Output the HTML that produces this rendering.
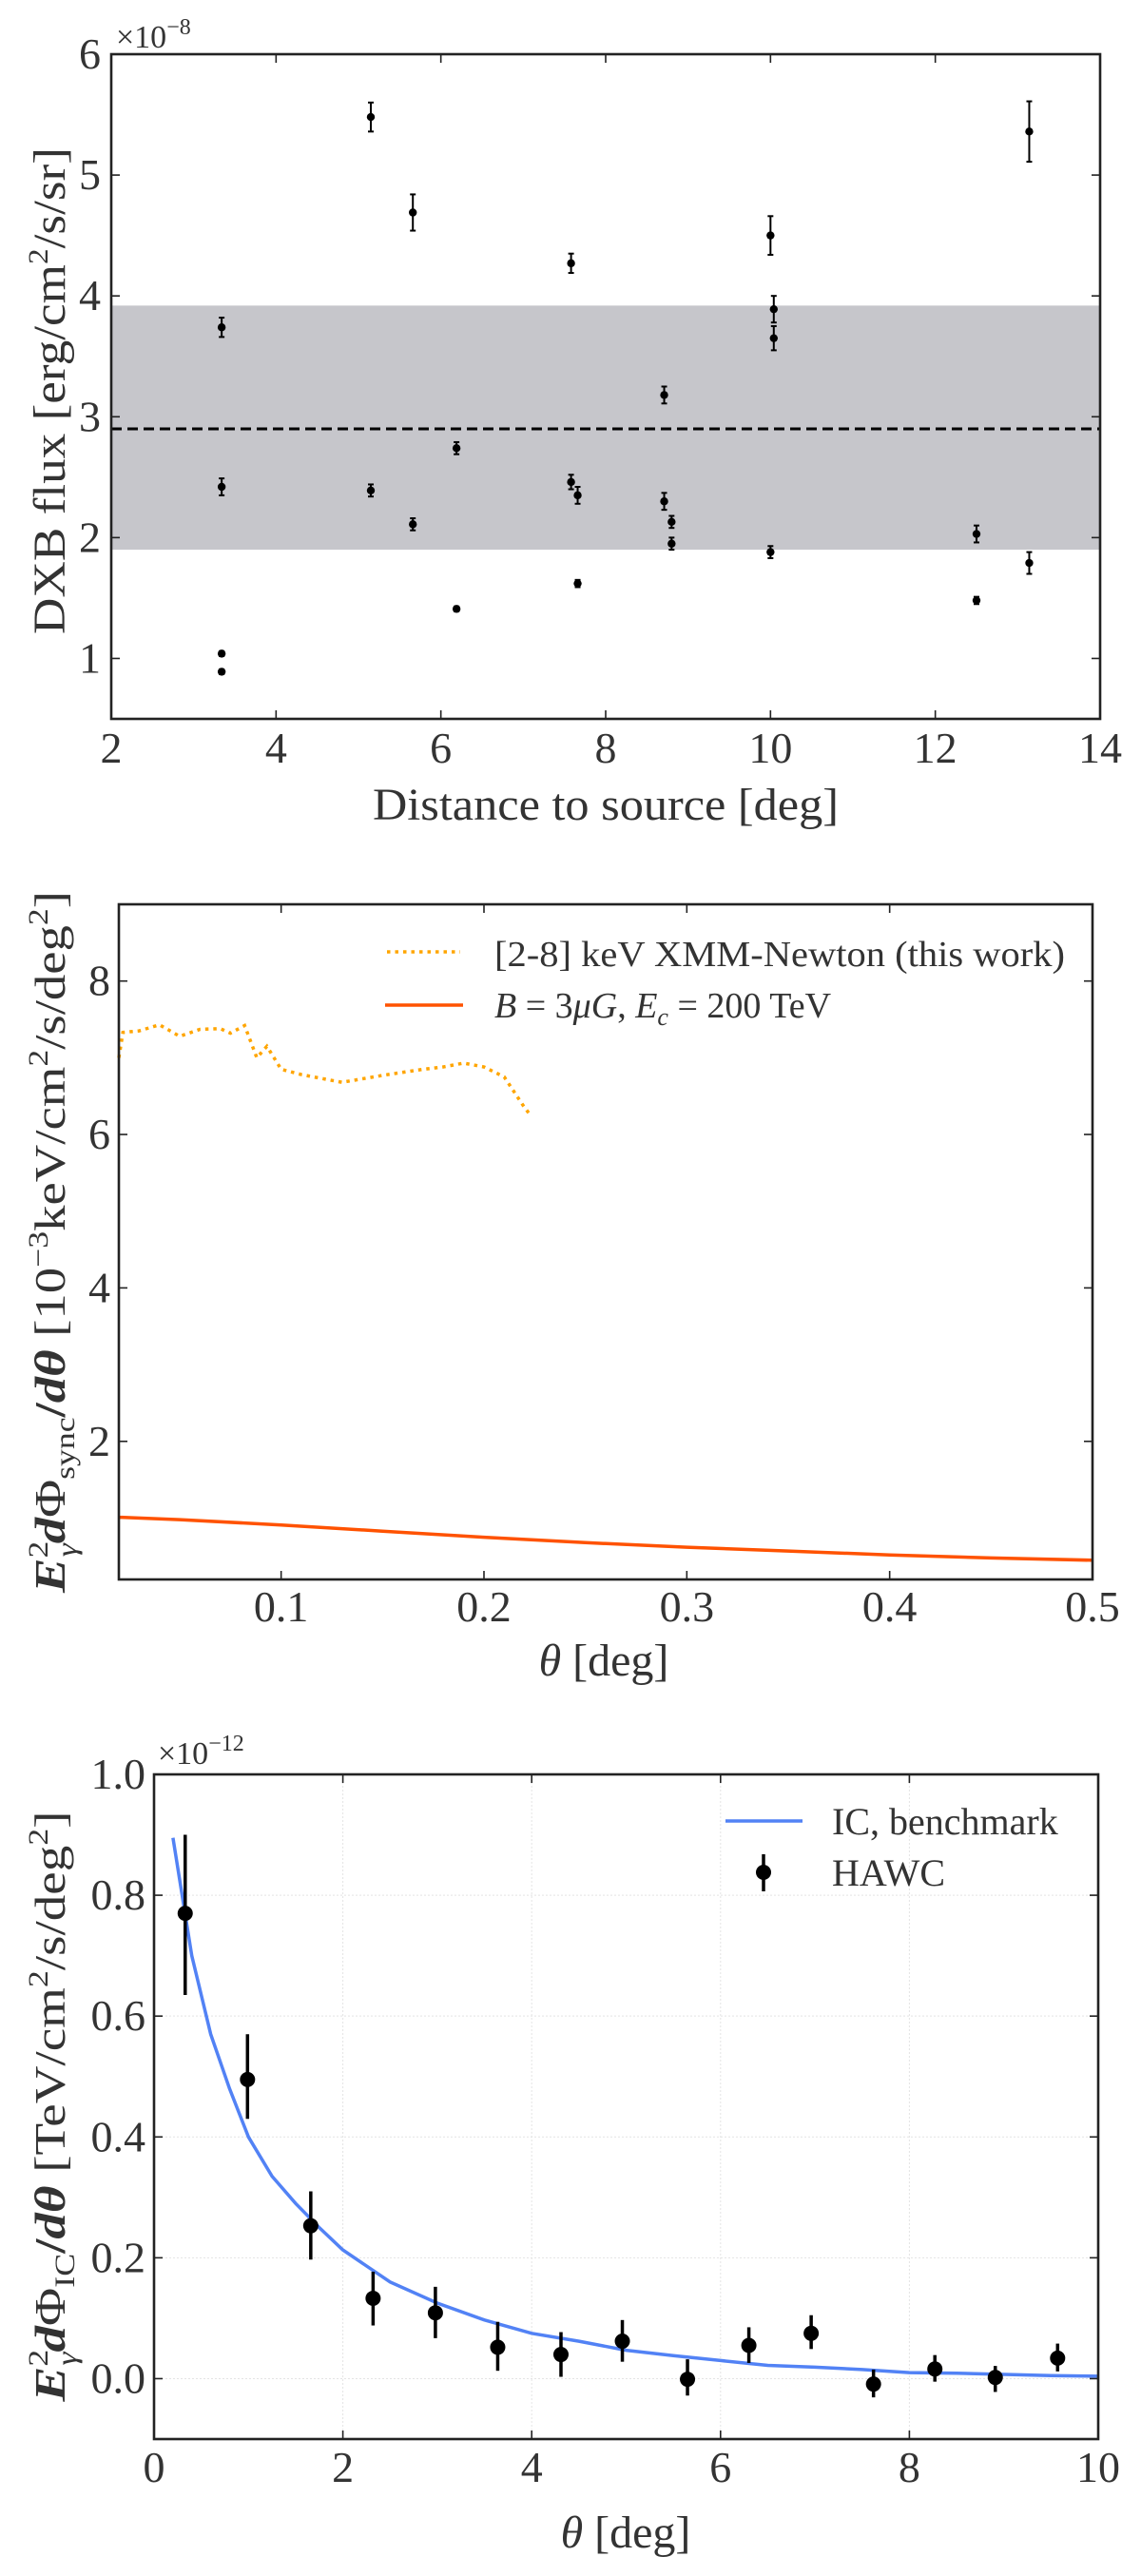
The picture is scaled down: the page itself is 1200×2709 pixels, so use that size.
<!DOCTYPE html>
<html><head><meta charset="utf-8"><style>
html,body{margin:0;padding:0;background:#fff;}
svg{display:block;font-family:"Liberation Serif","DejaVu Serif",serif;}
svg text{font-family:"Liberation Serif","DejaVu Serif",serif;}
</style></head><body>
<svg id="fig" width="1200" height="2709" viewBox="0 0 1200 2709" xmlns="http://www.w3.org/2000/svg" font-family="'Liberation Serif','DejaVu Serif',serif">
<g id="p1"></g>
<g id="p2"></g>
<g id="p3"></g>
</svg>
<script>
// ---- Panel 1 data ----
const dxbDist = [3.34,3.34,3.34,3.34,5.15,5.15,5.66,5.66,6.19,6.19,7.58,7.58,7.66,7.66,8.71,8.71,8.80,8.80,10.0,10.0,10.04,10.04,12.5,12.5,13.14,13.14];
const dxbFlux = [3.74,2.42,1.04,0.89,5.48,2.39,4.69,2.11,2.74,1.41,4.27,2.46,2.35,1.62,3.18,2.30,2.13,1.95,4.50,1.88,3.89,3.65,2.03,1.48,5.36,1.79];
const dxbErr  = [0.08,0.07,0.02,0.02,0.12,0.05,0.15,0.05,0.05,0.02,0.08,0.06,0.07,0.03,0.07,0.07,0.05,0.05,0.16,0.05,0.11,0.10,0.07,0.03,0.25,0.09];
const dxbMean = 2.9;
const dxbBand = [1.9, 3.92];
const p1XTicks = [2,4,6,8,10,12,14];
const p1YTicks = [1,2,3,4,5,6];
// ---- Panel 2 data ----
const xmmTheta = [0.02,0.022,0.03,0.04,0.05,0.06,0.07,0.075,0.082,0.088,0.093,0.1,0.11,0.13,0.15,0.17,0.18,0.19,0.2,0.21,0.22,0.223];
const xmmFlux  = [7.0,7.33,7.35,7.43,7.28,7.37,7.38,7.32,7.42,7.0,7.15,6.85,6.78,6.68,6.77,6.85,6.88,6.93,6.88,6.75,6.35,6.25];
const syncTheta = [0.02,0.05,0.1,0.15,0.2,0.25,0.3,0.35,0.4,0.45,0.5];
const syncFlux  = [1.01,0.98,0.91,0.83,0.75,0.68,0.62,0.57,0.52,0.48,0.45];
const p2XTicks = [0.1,0.2,0.3,0.4,0.5];
const p2YTicks = [2,4,6,8];
// ---- Panel 3 data ----
const icTheta = [0.2,0.4,0.6,0.8,1.0,1.25,1.5,1.75,2.0,2.5,3.0,3.5,4.0,4.5,5.0,5.5,6.0,6.5,7.0,7.5,8.0,8.5,9.0,9.5,10.0];
const icFlux  = [0.895,0.70,0.57,0.48,0.40,0.335,0.29,0.25,0.213,0.16,0.125,0.097,0.075,0.062,0.047,0.038,0.03,0.022,0.019,0.015,0.01,0.009,0.007,0.005,0.004];
const hawcTheta = [0.33,0.99,1.66,2.32,2.98,3.64,4.31,4.96,5.65,6.30,6.96,7.62,8.27,8.91,9.57];
const hawcFlux  = [0.77,0.495,0.253,0.133,0.109,0.052,0.04,0.062,-0.001,0.055,0.075,-0.009,0.016,0.002,0.034];
const hawcLo    = [0.635,0.43,0.197,0.088,0.067,0.013,0.003,0.028,-0.028,0.026,0.049,-0.031,-0.005,-0.022,0.012];
const hawcHi    = [0.90,0.57,0.31,0.177,0.152,0.094,0.077,0.097,0.032,0.085,0.105,0.015,0.039,0.021,0.058];
const p3XTicks = [0,2,4,6,8,10];
const p3YTicks = [0.0,0.2,0.4,0.6,0.8,1.0];

const NS="http://www.w3.org/2000/svg";
const FONT="'Liberation Serif','DejaVu Serif',serif";
function mk(parent,tag,attrs,text){const e=document.createElementNS(NS,tag);for(const k in attrs)e.setAttribute(k,attrs[k]);if(tag==='text')e.setAttribute('font-family',FONT);if(text!==undefined)e.textContent=text;parent.appendChild(e);return e;}
function scale(d0,d1,r0,r1){return v=>r0+(v-d0)*(r1-r0)/(d1-d0);}

function frame(g,L,T,R,B,xs,ys,xt,yt){
  xt.forEach(v=>{const l=mk(g,'line',{x1:xs(v),x2:xs(v),y1:T,y2:B,stroke:'#e4e4e4','stroke-width':1,'stroke-dasharray':'2,2'});
    });
  yt.forEach(v=>{const l=mk(g,'line',{x1:L,x2:R,y1:ys(v),y2:ys(v),stroke:'#e4e4e4','stroke-width':1,'stroke-dasharray':'2,2'});
    });
}
function axes(g,L,T,R,B,xs,ys,xt,yt,fmtX,fmtY,xTickY,yTickX){
  const r=mk(g,'rect',{x:L,y:T,width:R-L,height:B-T,fill:'none',stroke:'#222','stroke-width':2.6});
  
  xt.forEach(v=>{const x=xs(v);
    mk(g,'line',{x1:x,x2:x,y1:B,y2:B-9,stroke:'#222','stroke-width':1.6});
    mk(g,'line',{x1:x,x2:x,y1:T,y2:T+9,stroke:'#222','stroke-width':1.6});
    const t=mk(g,'text',{x:x,y:xTickY,'text-anchor':'middle','font-size':46,fill:'#333'},fmtX(v));
    });
  yt.forEach(v=>{const y=ys(v);
    mk(g,'line',{x1:L,x2:L+9,y1:y,y2:y,stroke:'#222','stroke-width':1.6});
    mk(g,'line',{x1:R,x2:R-9,y1:y,y2:y,stroke:'#222','stroke-width':1.6});
    const t=mk(g,'text',{x:yTickX,y:y+15,'text-anchor':'end','font-size':46,fill:'#333'},fmtY(v));
    });
}

// ===== Panel 1 =====
(function(){
  const g=document.getElementById('p1');
  const L=117,R=1157,T=57,B=756;
  const xs=scale(2,14,L,R), ys=scale(0.5,6,B,T);
  const band=mk(g,'rect',{x:L,y:ys(dxbBand[1]),width:R-L,height:ys(dxbBand[0])-ys(dxbBand[1]),fill:'#c6c6cb'});
  
  const m=mk(g,'line',{x1:L,x2:R,y1:ys(dxbMean),y2:ys(dxbMean),stroke:'#000','stroke-width':3,'stroke-dasharray':'11,6'});
  
  dxbDist.forEach((d,i)=>{
    const x=xs(d),y0=ys(dxbFlux[i]-dxbErr[i]),y1=ys(dxbFlux[i]+dxbErr[i]);
    const pg=mk(g,'g',{});
    
    mk(pg,'line',{x1:x,x2:x,y1:y0,y2:y1,stroke:'#000','stroke-width':2});
    mk(pg,'line',{x1:x-3,x2:x+3,y1:y0,y2:y0,stroke:'#000','stroke-width':2});
    mk(pg,'line',{x1:x-3,x2:x+3,y1:y1,y2:y1,stroke:'#000','stroke-width':2});
    mk(pg,'circle',{cx:x,cy:ys(dxbFlux[i]),r:4.2,fill:'#000'});
  });
  axes(g,L,T,R,B,xs,ys,p1XTicks,p1YTicks,v=>String(v),v=>String(v),802,106);
  const s=mk(g,'text',{x:122,y:50,'font-size':34,fill:'#333'},'×10');
  
  mk(s,'tspan',{'font-size':24,dy:-14},'−8');
  const xl=mk(g,'text',{x:637,y:862,'text-anchor':'middle','font-size':48,fill:'#333',textLength:490,lengthAdjust:'spacingAndGlyphs'},'Distance to source [deg]');
  
  const yl=mk(g,'text',{x:0,y:0,transform:'translate(68,411) rotate(-90)','text-anchor':'middle','font-size':48,fill:'#333',textLength:512,lengthAdjust:'spacingAndGlyphs'},'DXB flux [erg/cm');
  
  mk(yl,'tspan',{'font-size':30,dy:-18},'2');
  mk(yl,'tspan',{dy:18},'/s/sr]');
})();

// ===== Panel 2 =====
(function(){
  const g=document.getElementById('p2');
  const L=125,R=1149,T=951,B=1661;
  const xs=scale(0.02,0.5,L,R), ys=scale(0.2,9,B,T);
  const d1=xmmTheta.map((t,i)=>(i?'L':'M')+xs(t).toFixed(1)+','+ys(xmmFlux[i]).toFixed(1)).join(' ');
  const p=mk(g,'path',{d:d1,fill:'none',stroke:'#ffa500','stroke-width':3.5,'stroke-dasharray':'3.5,5'});
  
  const d2=syncTheta.map((t,i)=>(i?'L':'M')+xs(t).toFixed(1)+','+ys(syncFlux[i]).toFixed(1)).join(' ');
  const q=mk(g,'path',{d:d2,fill:'none',stroke:'#ff5200','stroke-width':3.5});
  
  axes(g,L,T,R,B,xs,ys,p2XTicks,p2YTicks,v=>v.toFixed(1),v=>String(v),1705,116);
  const lg=mk(g,'g',{});
  
  mk(lg,'line',{x1:407,x2:484,y1:1001,y2:1001,stroke:'#ffa500','stroke-width':3.5,'stroke-dasharray':'3.5,5'});
  const t1=mk(lg,'text',{x:520,y:1016,'font-size':38,fill:'#333',textLength:600,lengthAdjust:'spacingAndGlyphs'},'[2-8] keV XMM-Newton (this work)');
  
  mk(lg,'line',{x1:405,x2:487,y1:1057,y2:1057,stroke:'#ff5200','stroke-width':3.5});
  const t2=mk(lg,'text',{x:520,y:1070,'font-size':38,fill:'#333'});
  
  mk(t2,'tspan',{'font-style':'italic'},'B');mk(t2,'tspan',{},' = 3');mk(t2,'tspan',{'font-style':'italic'},'μG');
  mk(t2,'tspan',{},', ');mk(t2,'tspan',{'font-style':'italic'},'E');mk(t2,'tspan',{'font-style':'italic','font-size':26,dy:8},'c');
  mk(t2,'tspan',{dy:-8},' = 200 TeV');
  const xl=mk(g,'text',{x:635,y:1762,'text-anchor':'middle','font-size':48,fill:'#333'});
  
  mk(xl,'tspan',{'font-style':'italic'},'θ');mk(xl,'tspan',{},' [deg]');
  const yl=mk(g,'text',{x:0,y:0,transform:'translate(68,1306) rotate(-90)','text-anchor':'middle','font-size':46,fill:'#333',textLength:738,lengthAdjust:'spacingAndGlyphs'});
  
  mk(yl,'tspan',{'font-style':'italic','font-weight':'bold'},'E');
  mk(yl,'tspan',{'font-size':30,dy:-18},'2');mk(yl,'tspan',{'font-size':30,dx:-14,dy:30,'font-style':'italic'},'γ');
  mk(yl,'tspan',{dy:-12,'font-style':'italic','font-weight':'bold'},'d');mk(yl,'tspan',{},'Φ');
  mk(yl,'tspan',{'font-size':30,dy:10},'sync');mk(yl,'tspan',{dy:-10,'font-weight':'bold'},'/');
  mk(yl,'tspan',{'font-style':'italic','font-weight':'bold'},'dθ');
  mk(yl,'tspan',{},' [10');mk(yl,'tspan',{'font-size':30,dy:-18},'−3');
  mk(yl,'tspan',{dy:18},'keV/cm');mk(yl,'tspan',{'font-size':30,dy:-18},'2');
  mk(yl,'tspan',{dy:18},'/s/deg');mk(yl,'tspan',{'font-size':30,dy:-18},'2');mk(yl,'tspan',{dy:18},']');
})();

// ===== Panel 3 =====
(function(){
  const g=document.getElementById('p3');
  const L=162,R=1155,T=1866,B=2565;
  const xs=scale(0,10,L,R), ys=scale(-0.1,1.0,B,T);
  frame(g,L,T,R,B,xs,ys,p3XTicks,p3YTicks);
  const d=icTheta.map((t,i)=>(i?'L':'M')+xs(t).toFixed(1)+','+ys(icFlux[i]).toFixed(1)).join(' ');
  const p=mk(g,'path',{d:d,fill:'none',stroke:'#5282f5','stroke-width':3.5});
  
  hawcTheta.forEach((t,i)=>{
    const x=xs(t);const pg=mk(g,'g',{});
    
    mk(pg,'line',{x1:x,x2:x,y1:ys(hawcLo[i]),y2:ys(hawcHi[i]),stroke:'#000','stroke-width':3.5});
    mk(pg,'circle',{cx:x,cy:ys(hawcFlux[i]),r:8,fill:'#000'});
  });
  axes(g,L,T,R,B,xs,ys,p3XTicks,p3YTicks,v=>String(v),v=>v.toFixed(1),2610,153);
  const s=mk(g,'text',{x:166,y:1855,'font-size':34,fill:'#333'},'×10');
  
  mk(s,'tspan',{'font-size':24,dy:-14},'−12');
  const lg=mk(g,'g',{});
  
  mk(lg,'line',{x1:763,x2:844,y1:1915,y2:1915,stroke:'#5282f5','stroke-width':3.5});
  const t1=mk(lg,'text',{x:875,y:1929,'font-size':40,fill:'#333'},'IC, benchmark');
  
  mk(lg,'line',{x1:803,x2:803,y1:1950,y2:1989,stroke:'#000','stroke-width':3.5});
  mk(lg,'circle',{cx:803,cy:1969,r:8,fill:'#000'});
  const t2=mk(lg,'text',{x:875,y:1983,'font-size':40,fill:'#333'},'HAWC');
  
  const xl=mk(g,'text',{x:658,y:2679,'text-anchor':'middle','font-size':48,fill:'#333'});
  
  mk(xl,'tspan',{'font-style':'italic'},'θ');mk(xl,'tspan',{},' [deg]');
  const yl=mk(g,'text',{x:0,y:0,transform:'translate(68,2215) rotate(-90)','text-anchor':'middle','font-size':46,fill:'#333',textLength:621,lengthAdjust:'spacingAndGlyphs'});
  
  mk(yl,'tspan',{'font-style':'italic','font-weight':'bold'},'E');
  mk(yl,'tspan',{'font-size':30,dy:-18},'2');mk(yl,'tspan',{'font-size':30,dx:-14,dy:30,'font-style':'italic'},'γ');
  mk(yl,'tspan',{dy:-12,'font-style':'italic','font-weight':'bold'},'d');mk(yl,'tspan',{},'Φ');
  mk(yl,'tspan',{'font-size':30,dy:10},'IC');mk(yl,'tspan',{dy:-10,'font-weight':'bold'},'/');
  mk(yl,'tspan',{'font-style':'italic','font-weight':'bold'},'dθ');
  mk(yl,'tspan',{},' [TeV/cm');mk(yl,'tspan',{'font-size':30,dy:-18},'2');
  mk(yl,'tspan',{dy:18},'/s/deg');mk(yl,'tspan',{'font-size':30,dy:-18},'2');mk(yl,'tspan',{dy:18},']');
})();
</script>
</body></html>
